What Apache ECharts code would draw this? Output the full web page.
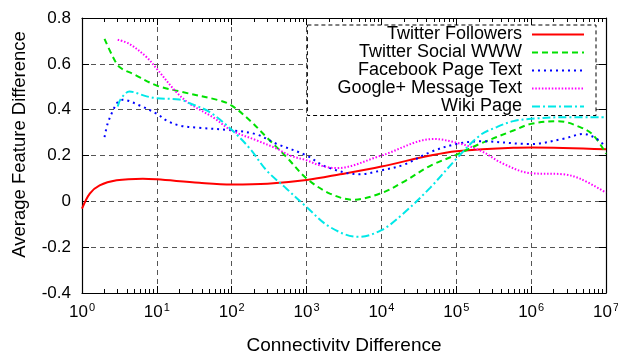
<!DOCTYPE html>
<html>
<head>
<meta charset="utf-8">
<script src="https://cdn.jsdelivr.net/npm/echarts@6/dist/echarts.min.js"></script>
<style>
html,body{margin:0;padding:0;background:#fff;}
#chart{width:618px;height:351px;}
</style>
</head>
<body>
<div id="chart"></div>
<script>
const seriesNames = ['Twitter Followers', 'Twitter Social WWW', 'Facebook Page Text', 'Google+ Message Text', 'Wiki Page'];
const seriesColors = ['#ff0000', '#00e000', '#0000ff', '#ff00ff', '#00e8e8'];

const twitterFollowers = [[1,-0.032],[1.27,0.034],[1.72,0.07],[2.9,0.092],[6.5,0.099],[10,0.096],[37,0.081],[100,0.074],[300,0.077],[1000,0.093],[2800,0.118],[1e4,0.152],[4.5e4,0.2],[1e5,0.219],[5.8e5,0.234],[1e6,0.235],[1e7,0.227]];
const twitterSocialWWW = [[2,0.709],[2.6,0.629],[3.2,0.585],[4.8,0.556],[10,0.505],[20,0.48],[69,0.44],[100,0.418],[175,0.353],[292,0.28],[540,0.193],[1000,0.1],[2050,0.034],[4200,0.007],[1e4,0.036],[1.95e4,0.084],[4.5e4,0.155],[1e5,0.203],[2.07e5,0.251],[5.8e5,0.309],[1e6,0.338],[2.3e6,0.35],[4.5e6,0.324],[6.8e6,0.288],[1e7,0.208]];
const facebookPageText = [[2,0.28],[2.2,0.339],[2.6,0.397],[3,0.433],[3.5,0.443],[5.9,0.418],[10,0.382],[13.4,0.353],[20,0.331],[36,0.321],[100,0.31],[215,0.292],[398,0.251],[1000,0.2],[1850,0.15],[5100,0.118],[1e4,0.135],[2e4,0.16],[4.5e4,0.215],[1e5,0.25],[2.07e5,0.262],[1e6,0.25],[2.7e6,0.273],[5e6,0.294],[7.5e6,0.273],[1e7,0.237]];
const googleMessageText = [[3,0.705],[4.3,0.687],[7.3,0.629],[10,0.578],[18.3,0.476],[27.5,0.426],[56,0.367],[100,0.309],[215,0.266],[398,0.23],[598,0.2],[1000,0.179],[1510,0.157],[2500,0.145],[1e4,0.2],[5e4,0.272],[1e5,0.256],[2.07e5,0.222],[4.25e5,0.164],[9.7e5,0.123],[2.7e6,0.118],[4.5e6,0.099],[1e7,0.038]];
const wikiPage = [[3,0.414],[3.3,0.447],[4.3,0.479],[7.3,0.458],[10,0.45],[20,0.444],[27.5,0.428],[51,0.389],[100,0.312],[175,0.23],[292,0.135],[540,0.055],[1000,-0.025],[2050,-0.112],[4900,-0.155],[1e4,-0.126],[1.95e4,-0.054],[4.5e4,0.06],[1e5,0.185],[2.07e5,0.288],[3.47e5,0.324],[5.8e5,0.35],[1e6,0.36],[2.7e6,0.367],[1e7,0.367]];

const seriesData = [twitterFollowers, twitterSocialWWW, facebookPageText, googleMessageText, wikiPage];
const seriesDash = ['solid', [6, 4], [2, 4], [1.5, 1.8], [8, 3, 2, 3]];

const xMin = 1, xMax = 1e7;
const decades = 7;
const yMin = -0.4, yMax = 0.8, yStep = 0.2;

// minor tick positions of the log axis, expressed in decades (log10 space)
const minorTickDecades = [];
for (let d = 0; d < decades; d++) {
  for (let k = 2; k <= 9; k++) minorTickDecades.push(d + Math.log10(k));
}

const FONT = 'Liberation Sans, Arial, Helvetica, sans-serif';
const gridLine = { show: true, lineStyle: { color: '#555', type: [5, 4], width: 1 } };
const axisBlack = { show: true, onZero: false, lineStyle: { color: '#000', width: 1.2 } };
const noLine = { show: false, onZero: false };

const chart = echarts.init(document.getElementById('chart'), null, { renderer: 'canvas' });

const xBase = { type: 'log', logBase: 10, min: xMin, max: xMax, gridIndex: 0 };
const minorBase = { type: 'value', min: 0, max: decades, gridIndex: 0 };

chart.setOption({
  animation: false,
  backgroundColor: '#fff',
  textStyle: { fontFamily: FONT },
  grid: { left: 82, right: 12, top: 18, bottom: 58, containLabel: false, outerBoundsMode: 'none' },
  legend: {
    orient: 'vertical',
    right: 22,
    top: 25,
    align: 'right',
    itemWidth: 52,
    itemHeight: 14,
    itemGap: 0,
    padding: [0.5, 11, 0, 30],
    backgroundColor: '#fff',
    borderColor: '#000',
    borderWidth: 1,
    borderType: [4, 3],
    itemStyle: { opacity: 0 },
    textStyle: { fontSize: 18, color: '#000', fontFamily: FONT, lineHeight: 16, padding: [0, 5, 0, 0] },
    data: seriesNames,
    z: 10
  },
  xAxis: [
    Object.assign({}, xBase, {
      position: 'bottom',
      name: 'Connectivity Difference',
      nameLocation: 'middle',
      nameGap: 43,
      nameTextStyle: { fontSize: 19, color: '#000', fontFamily: FONT },
      axisLine: axisBlack,
      axisTick: { show: true, inside: true, length: 7, lineStyle: { color: '#000' } },
      splitLine: gridLine,
      axisLabel: {
        margin: 9,
        formatter: v => '{b|10}{s|' + Math.round(Math.log10(v)) + '}',
        rich: {
          b: { fontSize: 17, color: '#000', fontFamily: FONT },
          s: { fontSize: 11, color: '#000', fontFamily: FONT, padding: [0, 0, 10, 1] }
        }
      }
    }),
    Object.assign({}, minorBase, {
      position: 'bottom',
      axisLine: noLine,
      axisLabel: { show: false },
      splitLine: { show: false },
      axisTick: { show: true, inside: true, length: 4, customValues: minorTickDecades, lineStyle: { color: '#000', width: 1 } }
    }),
    Object.assign({}, xBase, {
      position: 'top',
      axisLine: axisBlack,
      axisLabel: { show: false },
      splitLine: { show: false },
      axisTick: { show: true, inside: true, length: 7, lineStyle: { color: '#000' } }
    }),
    Object.assign({}, minorBase, {
      position: 'top',
      axisLine: noLine,
      axisLabel: { show: false },
      splitLine: { show: false },
      axisTick: { show: true, inside: true, length: 4, customValues: minorTickDecades, lineStyle: { color: '#000', width: 1 } }
    })
  ],
  yAxis: [
    {
      type: 'value', min: yMin, max: yMax, interval: yStep, position: 'left',
      name: 'Average Feature Difference',
      nameLocation: 'middle',
      nameGap: 53,
      nameRotate: 90,
      nameTextStyle: { fontSize: 18.5, color: '#000', fontFamily: FONT, padding: [0, 0, 0, 22] },
      axisLine: axisBlack,
      axisTick: { show: true, inside: true, length: 7, lineStyle: { color: '#000' } },
      splitLine: gridLine,
      axisLabel: { fontSize: 17, color: '#000', margin: 11, fontFamily: FONT }
    },
    {
      type: 'value', min: yMin, max: yMax, interval: yStep, position: 'right',
      axisLine: axisBlack,
      axisTick: { show: true, inside: true, length: 7, lineStyle: { color: '#000' } },
      splitLine: { show: false },
      axisLabel: { show: false }
    }
  ],
  series: seriesNames.map((name, i) => ({
    name: name,
    type: 'line',
    xAxisIndex: 0,
    yAxisIndex: 0,
    data: seriesData[i],
    smooth: 0.35,
    showSymbol: false,
    symbol: 'none',
    color: seriesColors[i],
    lineStyle: { color: seriesColors[i], width: 2, type: seriesDash[i] },
    z: 3
  }))
});
</script>
</body>
</html>
